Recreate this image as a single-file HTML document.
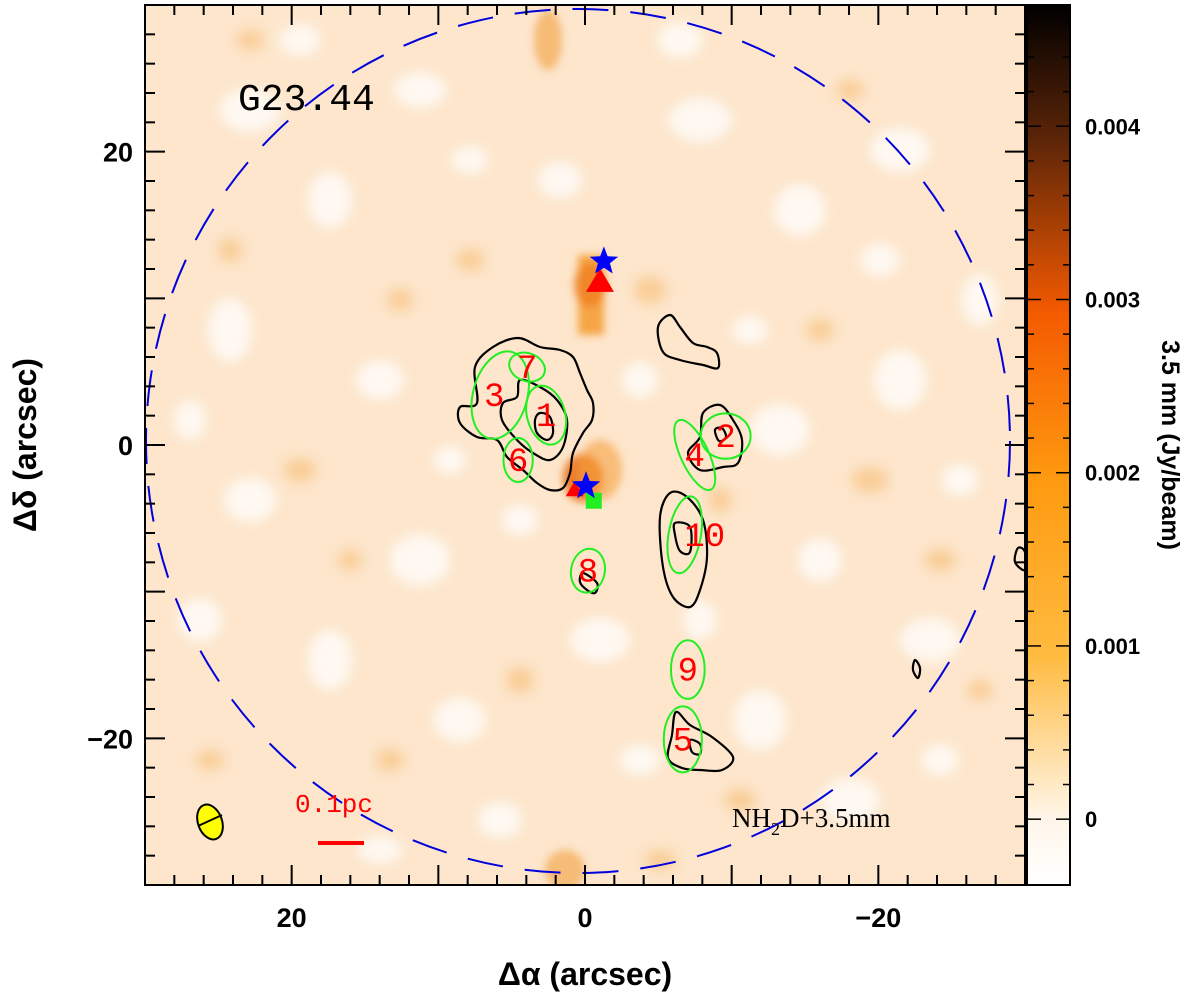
<!DOCTYPE html>
<html><head><meta charset="utf-8"><style>
html,body{margin:0;padding:0;background:#fff;}
svg{display:block;font-family:"Liberation Sans",sans-serif;}
</style></head><body>
<svg id="chart" width="1200" height="1000" viewBox="0 0 1200 1000" xmlns="http://www.w3.org/2000/svg">
<defs>
<clipPath id="plotclip"><rect x="145" y="5" width="880" height="880"/></clipPath>
<filter id="blur6"><feGaussianBlur stdDeviation="6"/></filter>
<filter id="blur3"><feGaussianBlur stdDeviation="4"/></filter>
<linearGradient id="cbgrad" x1="0" y1="1" x2="0" y2="0">
<stop offset="0" stop-color="#ffffff"/>
<stop offset="0.074" stop-color="#fff6ea"/>
<stop offset="0.26" stop-color="#ffbb40"/>
<stop offset="0.46" stop-color="#ff9a10"/>
<stop offset="0.65" stop-color="#f45a00"/>
<stop offset="0.85" stop-color="#5a2408"/>
<stop offset="1" stop-color="#000000"/>
</linearGradient>
</defs>
<g id="plot" clip-path="url(#plotclip)">
<rect x="145" y="5" width="880" height="880" fill="#fde6cc"/>
<g id="texture" filter="url(#blur6)"></g>
<g id="feature" filter="url(#blur3)">
<rect x="578" y="255" width="26" height="80" fill="#f59a30" opacity="0.85"/>
<ellipse cx="590" cy="285" rx="16" ry="22" fill="#f08020" opacity="0.8"/>
<ellipse cx="583" cy="478" rx="20" ry="24" fill="#e86a10" opacity="0.85"/>
<ellipse cx="600" cy="470" rx="22" ry="30" fill="#f6a040" opacity="0.6"/>
<ellipse cx="548" cy="40" rx="14" ry="30" fill="#f4b060" opacity="0.8"/>
<ellipse cx="565" cy="870" rx="20" ry="20" fill="#f4b060" opacity="0.8"/>
</g>
<g id="contours" fill="none" stroke="#000" stroke-width="2.2"></g>
<g id="cores"></g>
<g id="markers"></g>
</g>
<circle id="pb" cx="578" cy="441" r="432" fill="none" stroke="#0000dd" stroke-width="2" stroke-dasharray="36,22"/>
<rect x="145" y="5" width="880" height="880" fill="none" stroke="#000" stroke-width="2"/>
<g id="ticks" stroke="#000" stroke-width="2"></g>
<g id="ticklabels" font-size="27" font-weight="bold" fill="#000"></g>
<text x="585" y="985" font-size="32" font-weight="bold" text-anchor="middle">Δα (arcsec)</text>
<text transform="translate(36,445) rotate(-90)" font-size="32" font-weight="bold" text-anchor="middle">Δδ (arcsec)</text>
<text x="238" y="110" font-family="Liberation Mono,monospace" font-size="38">G23.44</text>
<text x="732" y="827" font-family="Liberation Serif,serif" font-size="27">NH<tspan font-size="18" dy="8">2</tspan><tspan dy="-8">D+3.5mm</tspan></text>
<g>
<ellipse cx="210" cy="822" rx="12" ry="18" transform="rotate(-20 210 822)" fill="#ffff00" stroke="#000" stroke-width="2"/>
<line x1="198" y1="826" x2="222" y2="815" stroke="#000" stroke-width="2"/>
</g>
<text x="295" y="812" fill="#ff0000" font-family="Liberation Mono,monospace" font-size="26">0.1pc</text>
<line x1="318" y1="843" x2="364" y2="843" stroke="#ff0000" stroke-width="4"/>
<rect x="1027" y="5" width="43" height="880" fill="url(#cbgrad)" stroke="#000" stroke-width="2"/>
<g id="cbticks"></g>
<text transform="translate(1162,445) rotate(90)" font-size="25" font-weight="bold" text-anchor="middle">3.5 mm (Jy/beam)</text>
</svg>
<script>
const NS="http://www.w3.org/2000/svg";
const xMin=30, xMax=-30, yMin=-30, yMax=30;
const xTicks=[20,0,-20];
const xTickLabels=["20","0","\u221220"];
const yTicks=[20,0,-20];
const yTickLabels=["20","0","\u221220"];
const cbTicks=[0,0.001,0.002,0.003,0.004];
const cbTickLabels=["0","0.001","0.002","0.003","0.004"];
const cbMin=-0.00038, cbMax=0.0047;
const coreNames=["1","2","3","4","5","6","7","8","9","10"];
const coreX=[2.65,-9.59,5.78,-7.48,-6.67,4.56,3.95,-0.2,-7.01,-6.8];
const coreY=[2.04,0.61,3.4,-0.68,-20.07,-1.02,5.31,-8.57,-15.31,-6.12];
const coreA=[1.3,1.7,1.85,0.95,1.3,1.0,1.25,1.15,1.15,1.1];
const coreB=[2.05,1.55,3.05,2.6,2.25,1.5,0.95,1.5,2.0,2.65];
const coreRot=[-15,0,15,-25,0,0,20,10,0,10];
const labelDX=[0,0,-6,0,0,0,0,0,0,20];
const X=v=>145+(xMin-v)/(xMin-xMax)*880;
const Y=v=>5+(yMax-v)/(yMax-yMin)*880;
const S=v=>v*880/60;
const CB=v=>885-(v-cbMin)/(cbMax-cbMin)*880;
function mk(tag,attrs,parent){const e=document.createElementNS(NS,tag);for(const k in attrs)e.setAttribute(k,attrs[k]);parent.appendChild(e);return e;}
const tex=document.getElementById('texture');
const whites=[[250,110,30,22],[330,200,22,28],[420,90,26,18],[700,120,32,22],[800,210,26,26],[900,150,30,22],[230,330,22,32],[380,380,24,20],[250,500,26,22],[420,560,30,26],[330,660,22,30],[460,720,26,22],[780,430,30,26],[900,380,26,30],[820,560,22,22],[930,640,30,22],[760,720,26,30],[600,640,30,22],[500,820,22,18],[850,800,30,22],[680,40,22,18],[980,300,18,26],[200,620,22,22],[560,180,22,18],[640,380,18,18],[300,40,20,16],[470,160,18,14],[880,260,20,16],[700,620,16,20],[520,520,18,16],[190,420,16,20],[960,480,18,16],[640,760,20,16],[380,850,22,14],[940,760,18,16],[450,460,16,14],[750,330,18,14]];
whites.forEach(w=>{mk('ellipse',{cx:w[0],cy:w[1],rx:w[2],ry:w[3],fill:'#ffffff',opacity:0.75},tex);});
const oranges=[[300,470,16,12],[470,260,14,11],[650,290,16,14],[870,480,18,13],[390,760,14,11],[740,800,16,11],[520,680,14,13],[940,560,16,11],[230,250,12,12],[820,330,14,11],[660,860,16,10],[400,300,13,11],[210,760,14,10],[350,560,12,10],[720,500,12,12],[980,690,12,10],[250,40,14,10],[850,90,14,10]];
oranges.forEach(w=>{mk('ellipse',{cx:w[0],cy:w[1],rx:w[2],ry:w[3],fill:'#f8c380',opacity:0.7},tex);});
const contourPaths=[
"518,338 540,347 560,350 573,357 580,373 587,390 593,403 592,420 583,433 573,453 570,473 563,488 550,490 537,483 523,470 507,457 497,440 477,437 460,423 460,407 477,403 475,367 493,347",
"520,380 540,387 557,400 567,420 563,447 550,460 533,453 517,440 502,420 503,403 517,397",
"540,413 550,417 553,433 547,440 537,433 535,420",
"670,315 680,327 693,343 707,347 717,353 718,368 703,365 680,360 663,352 658,327",
"720,405 733,420 742,440 738,463 723,467 700,470 688,453 700,437 703,413",
"715,430 722,428 726,437 719,441",
"670,493 687,497 703,520 707,557 700,590 690,607 673,597 663,567 660,517",
"675,523 690,527 690,552 680,551 675,535",
"583,573 597,583 595,593 587,590 580,582",
"676,712 690,725 712,737 733,757 722,770 700,770 682,768 668,758 672,735",
"690,740 700,744 700,754 692,752",
"915,660 920,668 918,678 913,670",
"1018,548 1025,552 1025,570 1015,562"
];
function smooth(str){const p=str.split(' ').map(s=>s.split(',').map(Number));const n=p.length;let d=`M${p[0][0]},${p[0][1]}`;
 for(let i=0;i<n;i++){const p0=p[(i-1+n)%n],p1=p[i],p2=p[(i+1)%n],p3=p[(i+2)%n];
 const c1=[p1[0]+(p2[0]-p0[0])/6,p1[1]+(p2[1]-p0[1])/6],c2=[p2[0]-(p3[0]-p1[0])/6,p2[1]-(p3[1]-p1[1])/6];
 d+=` C${c1[0].toFixed(1)},${c1[1].toFixed(1)} ${c2[0].toFixed(1)},${c2[1].toFixed(1)} ${p2[0]},${p2[1]}`;}return d+'Z';}
const cg=document.getElementById('contours');
contourPaths.forEach((p,i)=>{const e=mk('path',{d:smooth(p)},cg);

});
const cores=document.getElementById('cores');
coreNames.forEach((n,i)=>{
 const cx=X(coreX[i]),cy=Y(coreY[i]);
 const e=mk('ellipse',{cx:cx,cy:cy,rx:S(coreA[i]),ry:S(coreB[i]),transform:`rotate(${coreRot[i]} ${cx} ${cy})`,fill:'none',stroke:'#22ee22','stroke-width':2},cores);
 
 
 const t=mk('text',{x:cx+labelDX[i],y:cy+11,'text-anchor':'middle',fill:'#ff0000','font-family':'Liberation Mono,monospace','font-size':34},cores);
 t.textContent=n;
 
 
});
const mg=document.getElementById('markers');
function star(cx,cy,r){let pts=[];for(let k=0;k<10;k++){const a=-Math.PI/2+k*Math.PI/5;const rr=k%2?r*0.42:r;pts.push((cx+rr*Math.cos(a)).toFixed(1)+','+(cy+rr*Math.sin(a)).toFixed(1));}return pts.join(' ');}
const triX=[-1.02,0.7], triY=[11.2,-3.0], triS=[14,9];
triX.forEach((v,i)=>{const cx=X(v),cy=Y(triY[i]),s=triS[i];
 const e=mk('polygon',{points:`${cx-s},${cy+s*0.8} ${cx+s},${cy+s*0.8} ${cx},${cy-s*0.9}`,fill:'#ff0000'},mg);
 
 });
const sq=mk('rect',{x:X(-0.6)-8,y:Y(-3.8)-8,width:16,height:16,fill:'#22ee22'},mg);


const starX=[-1.29,-0.07], starY=[12.52,-2.8];
starX.forEach((v,i)=>{const e=mk('polygon',{points:star(X(v),Y(starY[i]),15),fill:'#0000ff'},mg);
 
 });
const tg=document.getElementById('ticks'),lg=document.getElementById('ticklabels');
for(let v=-30;v<=30;v+=2){const major=v%10===0;const L=major?20:10;
 const x=X(v);mk('line',{x1:x,y1:885,x2:x,y2:885-L},tg);mk('line',{x1:x,y1:5,x2:x,y2:5+L},tg);
 const y=Y(v);mk('line',{x1:145,y1:y,x2:145+L,y2:y},tg);mk('line',{x1:1025,y1:y,x2:1025-L,y2:y},tg);}
xTicks.forEach((v,i)=>{const t=mk('text',{x:X(v),y:927,'text-anchor':'middle'},lg);t.textContent=xTickLabels[i];
 
 });
yTicks.forEach((v,i)=>{const t=mk('text',{x:133,y:Y(v)+10,'text-anchor':'end'},lg);t.textContent=yTickLabels[i];
 
 });
const cbg=document.getElementById('cbticks');
for(let v=0;v<=0.0046;v+=0.0002){const y=CB(v);const major=Math.abs(v/0.001-Math.round(v/0.001))<1e-6;
 mk('line',{x1:1027,y1:y,x2:1027+(major?14:7),y2:y,stroke:'#000','stroke-width':1.5},cbg);
 mk('line',{x1:1070,y1:y,x2:1070-(major?14:7),y2:y,stroke:'#000','stroke-width':1.5},cbg);}
cbTicks.forEach((v,i)=>{const t=mk('text',{x:1085,y:CB(v)+8,'font-size':22,'font-weight':'bold'},cbg);t.textContent=cbTickLabels[i];
 
 });
</script>
</body></html>
